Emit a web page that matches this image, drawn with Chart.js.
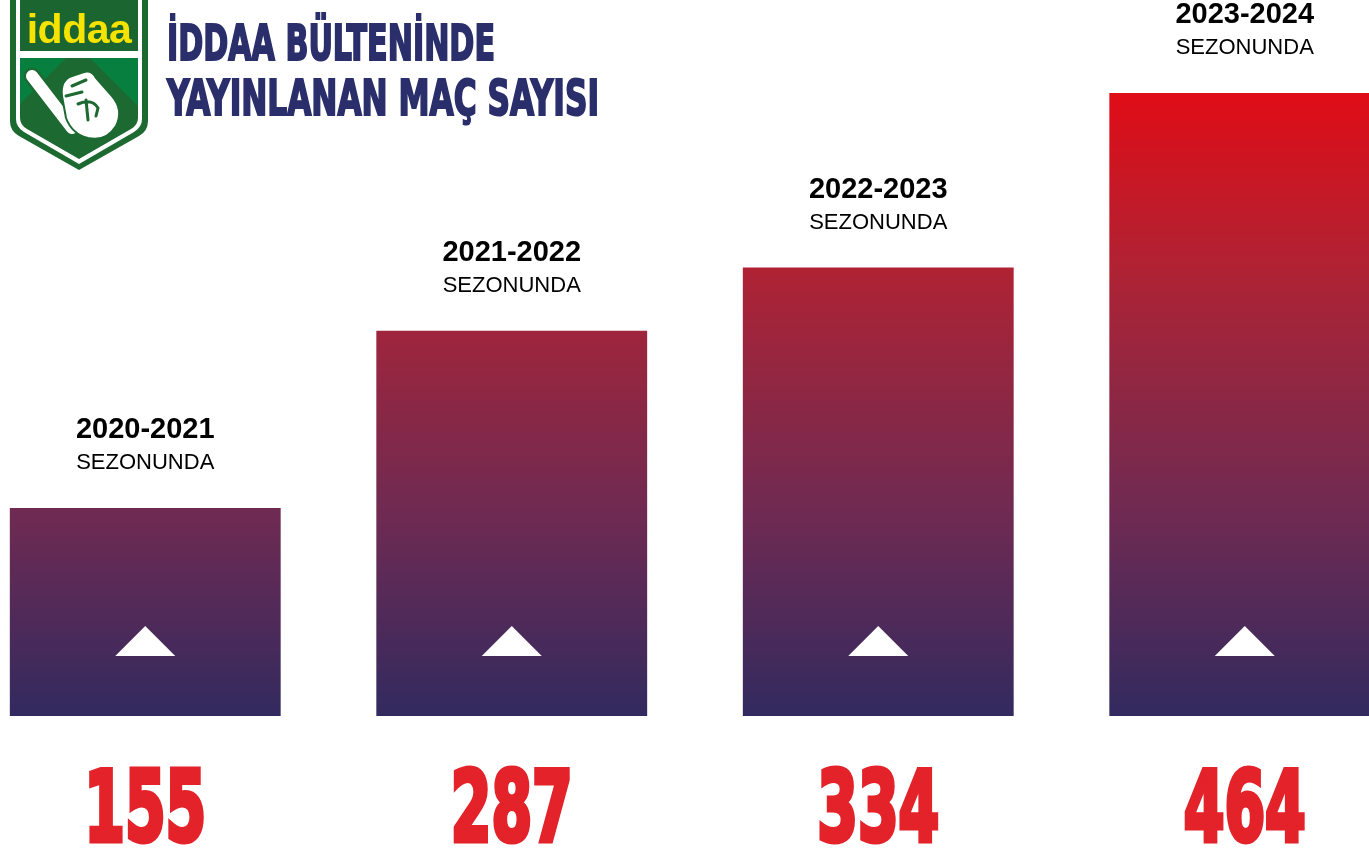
<!DOCTYPE html>
<html>
<head>
<meta charset="utf-8">
<script src="https://cdn.jsdelivr.net/npm/chart.js@4/dist/chart.umd.min.js"></script>
<style>
  html, body { margin: 0; padding: 0; background: #ffffff; overflow: hidden; width: 1369px; height: 851px; }
  #wrap { position: absolute; left: -38px; top: 0; width: 1466px; height: 851px; }
  #logo { position: absolute; left: 0; top: 0; }
</style>
</head>
<body>
<div id="wrap"><canvas id="c" width="1466" height="851"></canvas></div>
<svg id="logo" width="160" height="175" viewBox="0 0 160 175">
  <path d="M10,-5 L148,-5 L148,121 Q148,131 139,136 L79,170 L19,136 Q10,131 10,121 Z" fill="#1d6a31"/>
  <path d="M16,-5 L142,-5 L142,119 Q142,127 134,132 L79,164 L24,132 Q16,127 16,119 Z" fill="#ffffff"/>
  <rect x="20" y="-5" width="118" height="56" fill="#1a6530"/>
  <path d="M20,58 L138,58 L138,118 Q138,125 131,129 L79,159 L27,129 Q20,125 20,118 Z" fill="#1c6a31"/>
  <polygon points="20,58 66,58 20,104" fill="#07803f"/>
  <polygon points="90,58 138,58 138,106" fill="#07803f"/>
  <text x="79" y="43" text-anchor="middle" font-family="Liberation Sans, Arial, sans-serif" font-weight="bold" font-size="41" letter-spacing="-0.5" fill="#f6e300">iddaa</text>
  <line x1="32" y1="76" x2="72" y2="128" stroke="#1c6a31" stroke-width="17" stroke-linecap="round"/>
  <line x1="32" y1="76" x2="72" y2="128" stroke="#ffffff" stroke-width="12" stroke-linecap="round"/>
  <path d="M62,96 Q60,80 72,76 L84,72 Q92,70 96,78 L112,96 Q124,110 116,126 Q106,142 88,138 Q72,134 66,118 Z" fill="#ffffff" stroke="#1c6a31" stroke-width="2"/>
  <path d="M66,96 L82,92 M72,86 L86,80 M78,104 Q92,98 98,108 L96,116 M86,100 L88,120" stroke="#1c6a31" stroke-width="3" fill="none" stroke-linecap="round"/>
</svg>
<script>
// ---- data ----
const categories = ['2020-2021', '2021-2022', '2022-2023', '2023-2024'];
const values = [155, 287, 334, 464];
const seasonWord = 'SEZONUNDA';
const titleLines = ['İDDAA BÜLTENİNDE', 'YAYINLANAN MAÇ SAYISI'];

function barGradient(context) {
  const chart = context.chart;
  const area = chart.chartArea;
  if (!area) return '#322a5f';
  const g = chart.ctx.createLinearGradient(0, area.bottom, 0, area.top);
  g.addColorStop(0, '#322a5f');
  g.addColorStop(0.33, '#702a52');
  g.addColorStop(0.57, '#962640');
  g.addColorStop(0.72, '#b02233');
  g.addColorStop(1, '#e00d17');
  return g;
}

const decorPlugin = {
  id: 'decor',
  afterDatasetsDraw(chart) {
    const ctx = chart.ctx;
    const meta = chart.getDatasetMeta(0);
    meta.data.forEach((bar, i) => {
      const x = bar.x, top = bar.y, base = bar.base;
      // white triangle inside bar
      ctx.save();
      ctx.fillStyle = '#ffffff';
      ctx.beginPath();
      ctx.moveTo(x, base - 90);
      ctx.lineTo(x + 30, base - 60);
      ctx.lineTo(x - 30, base - 60);
      ctx.closePath();
      ctx.fill();
      ctx.restore();
      // season labels
      ctx.save();
      ctx.fillStyle = '#000000';
      ctx.textAlign = 'center';
      ctx.textBaseline = 'middle';
      ctx.font = 'bold 29px "Liberation Sans", Arial, sans-serif';
      ctx.fillText(categories[i], x, top - 78);
      ctx.font = '22px "Liberation Sans", Arial, sans-serif';
      ctx.fillText(seasonWord, x, top - 45);
      ctx.restore();
      // big number
      ctx.save();
      ctx.fillStyle = '#e3222a';
      ctx.strokeStyle = '#e3222a';
      ctx.lineWidth = 5;
      ctx.lineJoin = 'miter';
      ctx.font = 'bold 98px "Liberation Sans Narrow", "DejaVu Sans Condensed", sans-serif';
      ctx.textAlign = 'center';
      ctx.textBaseline = 'alphabetic';
      const label = String(values[i]);
      const w = ctx.measureText('334').width;
      const sx = 122 / w;
      ctx.translate(x, 841);
      ctx.scale(sx, 1);
      ctx.fillText(label, 0, 0);
      ctx.strokeText(label, 0, 0);
      ctx.restore();
    });
  },
  afterDraw(chart) {
    const ctx = chart.ctx;
    const offsetX = 38;
    const targets = [{ w: 328, y: 60 }, { w: 432, y: 115 }];
    ctx.save();
    ctx.fillStyle = '#2a2e6b';
    ctx.strokeStyle = '#2a2e6b';
    ctx.lineWidth = 2;
    ctx.font = 'bold 50px "Liberation Sans Narrow", "DejaVu Sans Condensed", sans-serif';
    ctx.textAlign = 'left';
    ctx.textBaseline = 'alphabetic';
    titleLines.forEach((line, i) => {
      const w = ctx.measureText(line).width;
      ctx.save();
      ctx.translate(167 + offsetX, targets[i].y);
      ctx.scale(targets[i].w / w, 1);
      ctx.fillText(line, 0, 0);
      ctx.strokeText(line, 0, 0);
      ctx.restore();
    });
    ctx.restore();
  }
};

new Chart(document.getElementById('c'), {
  type: 'bar',
  data: {
    labels: categories,
    datasets: [{
      data: values,
      backgroundColor: barGradient,
      borderWidth: 0,
      barPercentage: 0.739,
      categoryPercentage: 1
    }]
  },
  options: {
    responsive: false,
    animation: false,
    devicePixelRatio: 1,
    layout: { padding: { top: 93, bottom: 135, left: 0, right: 0 } },
    scales: {
      x: { display: false },
      y: { display: false, min: 0, max: 464 }
    },
    plugins: {
      legend: { display: false },
      tooltip: { enabled: false },
      title: { display: false }
    }
  },
  plugins: [decorPlugin]
});
</script>
</body>
</html>
